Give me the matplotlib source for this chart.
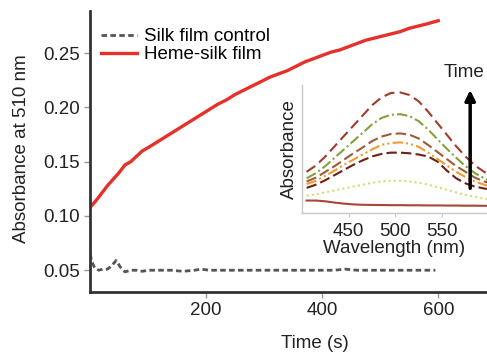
import matplotlib
matplotlib.use("Agg")
import matplotlib.pyplot as plt

plt.rcParams["font.family"] = ["Liberation Sans", "DejaVu Sans"]
FS = 13.5

# main panel: absorbance at 510 nm vs time
T_HEME = [0, 10, 20, 30, 40, 50, 60, 70, 80, 90, 100, 115, 130, 145, 160, 175, 190,
          205, 220, 235, 250, 265, 280, 295, 310, 325, 340, 355, 370, 385, 400, 415,
          430, 445, 460, 475, 490, 505, 520, 535, 550, 565, 580, 600]
A_HEME = [0.108, 0.114, 0.121, 0.128, 0.134, 0.140, 0.147, 0.150, 0.155, 0.160, 0.163,
          0.168, 0.173, 0.178, 0.183, 0.188, 0.193, 0.198, 0.203, 0.207, 0.212, 0.216,
          0.220, 0.224, 0.228, 0.231, 0.234, 0.238, 0.242, 0.245, 0.248, 0.251, 0.253,
          0.256, 0.259, 0.262, 0.264, 0.266, 0.268, 0.270, 0.273, 0.275, 0.277, 0.280]

T_CTRL = [0, 3, 8, 15, 22, 30, 37, 45, 52, 60, 70, 80, 90, 100, 120, 140, 160, 180,
          192, 205, 220, 240, 260, 280, 300, 320, 340, 360, 380, 400, 420, 440, 460,
          480, 500, 520, 540, 560, 580, 595]
A_CTRL = [0.065, 0.058, 0.052, 0.050, 0.051, 0.051, 0.054, 0.059, 0.053, 0.0485, 0.050,
          0.050, 0.049, 0.050, 0.050, 0.050, 0.049, 0.050, 0.051, 0.050, 0.050, 0.050,
          0.050, 0.050, 0.050, 0.050, 0.050, 0.050, 0.050, 0.050, 0.050, 0.051, 0.050,
          0.050, 0.050, 0.050, 0.050, 0.050, 0.050, 0.050]

# inset: spectra at increasing time
WL = [405, 415, 425, 435, 445, 455, 465, 475, 485, 495, 505, 515, 525, 535, 545,
      555, 565, 575, 585, 595, 600]
S0 = [0.096, 0.096, 0.090, 0.080, 0.072, 0.066, 0.063, 0.062, 0.061, 0.060, 0.060,
      0.059, 0.059, 0.058, 0.058, 0.057, 0.057, 0.056, 0.056, 0.055, 0.055]
S1 = [0.135, 0.145, 0.160, 0.175, 0.190, 0.205, 0.220, 0.235, 0.245, 0.250, 0.250,
      0.245, 0.235, 0.220, 0.200, 0.180, 0.160, 0.140, 0.125, 0.110, 0.105]
S2 = [0.195, 0.220, 0.255, 0.295, 0.335, 0.375, 0.410, 0.440, 0.460, 0.470, 0.470,
      0.465, 0.455, 0.440, 0.400, 0.330, 0.270, 0.230, 0.205, 0.190, 0.185]
S3 = [0.225, 0.250, 0.290, 0.330, 0.375, 0.415, 0.455, 0.495, 0.530, 0.545, 0.550,
      0.540, 0.515, 0.470, 0.420, 0.370, 0.320, 0.280, 0.245, 0.220, 0.210]
S4 = [0.245, 0.275, 0.320, 0.365, 0.415, 0.465, 0.510, 0.560, 0.595, 0.615, 0.620,
      0.610, 0.580, 0.530, 0.475, 0.420, 0.365, 0.320, 0.275, 0.245, 0.235]
S5 = [0.270, 0.310, 0.365, 0.430, 0.495, 0.560, 0.625, 0.690, 0.740, 0.765, 0.770,
      0.755, 0.715, 0.650, 0.575, 0.500, 0.430, 0.365, 0.310, 0.270, 0.250]
S6 = [0.320, 0.370, 0.440, 0.520, 0.600, 0.680, 0.760, 0.840, 0.900, 0.935, 0.940,
      0.920, 0.870, 0.790, 0.700, 0.610, 0.520, 0.440, 0.370, 0.320, 0.300]

fig = plt.figure(figsize=(4.87, 3.53), dpi=100)
ax = fig.add_axes([0.185, 0.173, 0.815, 0.796])

ax.plot(T_CTRL, A_CTRL, color="#555555", lw=2, ls=(0, (2, 1.2)), label="Silk film control")
ax.plot(T_HEME, A_HEME, color="#e8302a", lw=2.4, label="Heme-silk film")

ax.set_xlim(0, 684)
ax.set_ylim(0.03, 0.289)
ax.set_xticks([200, 400, 600])
ax.set_yticks([0.05, 0.10, 0.15, 0.20, 0.25])
ax.set_yticklabels(["0.05", "0.10", "0.15", "0.20", "0.25"])
for s in ["top", "right"]:
    ax.spines[s].set_visible(False)
for s in ["left", "bottom"]:
    ax.spines[s].set_linewidth(2)
    ax.spines[s].set_color("#333333")
ax.tick_params(labelsize=FS, length=4, width=1, color="#999999", labelcolor="#222222")
ax.set_xlabel("Time (s)", fontsize=FS, color="#222222")
ax.xaxis.set_label_coords(0.567, -0.152)
ax.set_ylabel("Absorbance at 510 nm", fontsize=FS, color="#222222")
ax.yaxis.set_label_coords(-0.152, 0.51)
ax.legend(loc="upper left", bbox_to_anchor=(-0.005, 0.985), frameon=False, fontsize=FS,
          handlelength=1.9, handletextpad=0.4, labelspacing=0.05, borderaxespad=0.3)

# inset
ins = fig.add_axes([0.620, 0.397, 0.380, 0.363])
ins.plot(WL, S0, color="#a8443a", lw=1.5, ls="-")
ins.plot(WL, S1, color="#cfe070", lw=1.5, ls=(0, (1, 1.5)))
ins.plot(WL, S2, color="#6e2018", lw=1.5, ls=(0, (5, 2)))
ins.plot(WL, S3, color="#f39a2e", lw=1.5, ls=(0, (5, 1.5, 1, 1.5, 1, 1.5)))
ins.plot(WL, S4, color="#a0593a", lw=1.5, ls=(0, (5, 2)))
ins.plot(WL, S5, color="#86a03c", lw=1.5, ls=(0, (5, 1.5, 1, 1.5)))
ins.plot(WL, S6, color="#a33a2c", lw=1.5, ls=(0, (5, 2.5)))
ins.set_xlim(400, 598)
ins.set_ylim(0, 1)
ins.set_xticks([450, 500, 550])
ins.set_yticks([])
ins.patch.set_alpha(0)
for s in ["top", "right"]:
    ins.spines[s].set_visible(False)
for s in ["left", "bottom"]:
    ins.spines[s].set_color("#c8c8c8")
    ins.spines[s].set_linewidth(1)
ins.tick_params(labelsize=FS, length=3, color="#c8c8c8", labelcolor="#222222", pad=4)
ins.set_xlabel("Wavelength (nm)", fontsize=FS, color="#222222", labelpad=0)
ins.set_ylabel("Absorbance", fontsize=FS, color="#222222", labelpad=3)
ins.annotate("", xy=(580, 0.98), xytext=(580, 0.17), annotation_clip=False,
             arrowprops=dict(arrowstyle="-|>,head_width=0.3,head_length=0.6",
                             color="black", lw=2.5))
ins.text(552, 1.095, "Time", fontsize=FS, color="#222222", ha="left", va="center",
         clip_on=False)

fig.savefig("out.png", dpi=100)
